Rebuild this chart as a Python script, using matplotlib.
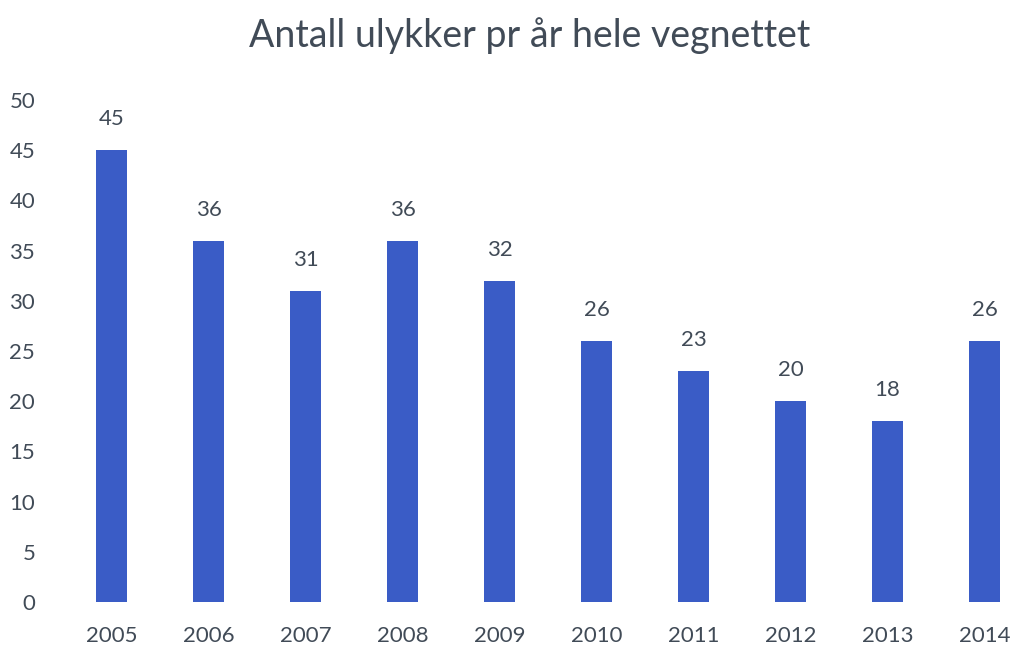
import matplotlib.pyplot as plt

# Data
years = ['2005', '2006', '2007', '2008', '2009', '2010', '2011', '2012', '2013', '2014']
accidents = [45, 36, 31, 36, 32, 26, 23, 20, 18, 26]
y_ticks = [0, 5, 10, 15, 20, 25, 30, 35, 40, 45, 50]

plt.rcParams['font.family'] = ['Lato', 'DejaVu Sans']
text_color = '#414b57'
bar_color = '#3a5cc6'

W, H = 1016, 650
fig = plt.figure(figsize=(W / 100, H / 100), dpi=100)

# axes placed in pixel terms: left 63, bottom at y=602, top at y=100
spacing = 97.0
left_px, right_px = 63, W
ax = fig.add_axes([left_px / W, (H - 602) / H, (right_px - left_px) / W, 502 / H])

x = range(len(years))
bars = ax.bar(x, accidents, width=0.31, color=bar_color)

for xi, v in zip(x, accidents):
    ax.annotate(str(v), (xi, v), xytext=(0, 15), textcoords='offset points',
                ha='center', va='bottom', fontsize=16, color=text_color)

ax.set_xlim(-0.5, -0.5 + (right_px - left_px) / spacing)
ax.set_ylim(0, 50)
ax.set_xticks(list(x))
ax.set_xticklabels(years)
ax.set_yticks(y_ticks)

for s in ax.spines.values():
    s.set_visible(False)
ax.tick_params(axis='both', length=0, labelsize=16, colors=text_color)
ax.tick_params(axis='x', pad=17)
ax.tick_params(axis='y', pad=20)

fig.text(530 / W, 1 - 36 / H, 'Antall ulykker pr år hele vegnettet',
         ha='center', va='center', fontsize=27, color=text_color)

plt.savefig('out.png', dpi=100)
